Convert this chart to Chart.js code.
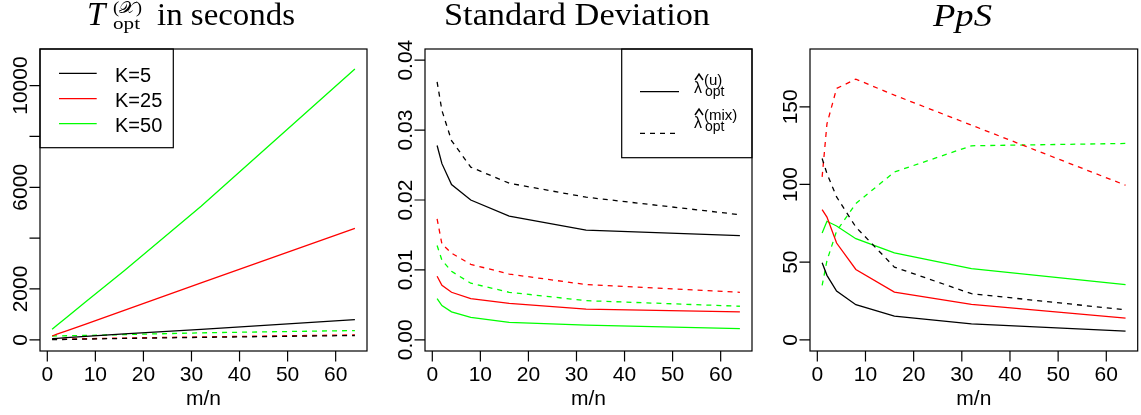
<!DOCTYPE html>
<html>
<head>
<meta charset="utf-8">
<script src="https://cdn.jsdelivr.net/npm/chart.js@4.4.1/dist/chart.umd.min.js"></script>
<style>
  body { margin: 0; background: #fff; }
  #wrap { position: relative; width: 1141px; height: 415px; }
  canvas { position: absolute; top: 0; }
</style>
</head>
<body>
<div id="wrap">
  <canvas id="time" width="380" height="415" style="left:0"></canvas>
  <canvas id="sd" width="380" height="415" style="left:380px"></canvas>
  <canvas id="pps" width="381" height="415" style="left:760px"></canvas>
</div>
<script>
'use strict';

// m/n ratios
const ratios = [1, 2, 4, 8, 16, 32, 64];
const kLabels = ['K=5', 'K=25', 'K=50'];
const kColors = ['#000000', '#ff0000', '#00ff00'];

// T_opt in seconds, uniform (solid) and mixed (dashed) per K
const timeUnifK5 = [47, 60, 85, 135, 230, 410, 795];
const timeUnifK25 = [150, 220, 350, 620, 1160, 2240, 4380];
const timeUnifK50 = [420, 575, 880, 1500, 2720, 5250, 10650];
const timeMixK5 = [5, 8, 15, 28, 55, 95, 170];
const timeMixK25 = [20, 25, 30, 45, 70, 115, 195];
const timeMixK50 = [150, 153, 160, 172, 205, 275, 365];

// standard deviation of lambda
const sdUnifK5 = [0.0278, 0.0252, 0.0222, 0.0200, 0.0177, 0.0157, 0.0149];
const sdUnifK25 = [0.0091, 0.0078, 0.0068, 0.0059, 0.0052, 0.0044, 0.0040];
const sdUnifK50 = [0.0059, 0.0049, 0.0040, 0.0032, 0.0025, 0.0021, 0.0016];
const sdMixK5 = [0.0369, 0.0328, 0.0285, 0.0247, 0.0224, 0.0204, 0.0179];
const sdMixK25 = [0.0173, 0.0137, 0.0124, 0.0108, 0.0094, 0.0079, 0.0068];
const sdMixK50 = [0.0135, 0.0114, 0.0098, 0.0081, 0.0068, 0.0056, 0.0048];

// PpS
const ppsUnifK5 = [49.6, 41.5, 31.4, 22.6, 15.3, 10.3, 5.6];
const ppsUnifK25 = [83.8, 79, 62.3, 45.3, 30.7, 22.8, 14];
const ppsUnifK50 = [68.8, 76.3, 73.3, 65.1, 55.9, 45.8, 35.5];
const ppsMixK5 = [116.7, 107, 92, 72.6, 46.8, 29.7, 19.3];
const ppsMixK25 = [104.9, 139, 161.8, 167.8, 157.5, 138.2, 99.5];
const ppsMixK50 = [35, 51, 70, 87.7, 108, 124.9, 126.4];

// axis ticks
const xTicks = [0, 10, 20, 30, 40, 50, 60];
const timeTicks = [0, 2000, 4000, 6000, 8000, 10000];
const timeTickLabels = ['0', '2000', '', '6000', '', '10000'];
const sdTicks = [0, 0.01, 0.02, 0.03, 0.04];
const sdTickLabels = ['0.00', '0.01', '0.02', '0.03', '0.04'];
const ppsTicks = [0, 50, 100, 150];
const ppsTickLabels = ['0', '50', '100', '150'];

const SANS = '"Liberation Sans", Arial, Helvetica, sans-serif';
const SERIF = '"Liberation Serif", "DejaVu Serif", serif';

function series(values) {
	return ratios.map((r, i) => ({ x: r, y: values[i] }));
}

function makeDatasets(unif, mix) {
	const sets = [];
	for (let k = 0; k < 3; k++) {
		sets.push({ data: series(unif[k]), borderColor: kColors[k], borderWidth: 1.3, pointRadius: 0 });
		sets.push({ data: series(mix[k]), borderColor: kColors[k], borderWidth: 1.3, pointRadius: 0, borderDash: [5, 5] });
	}
	return sets;
}

// text squeezed or stretched to a given width, left aligned
function fitText(ctx, text, x, y, font, width) {
	ctx.save();
	ctx.font = font;
	ctx.textAlign = 'left';
	ctx.textBaseline = 'alphabetic';
	const w = ctx.measureText(text).width;
	ctx.translate(x, y);
	ctx.scale(width / w, 1);
	ctx.fillText(text, 0, 0);
	ctx.restore();
}

// R style frame, ticks, labels, title and legend
const rAxes = {
	id: 'rAxes',
	afterDraw(chart, args, opts) {
		const { ctx, chartArea: a } = chart;
		const x = chart.scales.x;
		const y = chart.scales.y;
		ctx.save();
		ctx.strokeStyle = '#000';
		ctx.fillStyle = '#000';
		ctx.lineWidth = 1.2;
		ctx.strokeRect(a.left, a.top, a.right - a.left, a.bottom - a.top);

		ctx.beginPath();
		xTicks.forEach(v => {
			const px = x.getPixelForValue(v);
			ctx.moveTo(px, a.bottom);
			ctx.lineTo(px, a.bottom + 10.5);
		});
		opts.yTicks.forEach(v => {
			const py = y.getPixelForValue(v);
			ctx.moveTo(a.left, py);
			ctx.lineTo(a.left - 10.5, py);
		});
		ctx.stroke();

		ctx.font = '21px ' + SANS;
		ctx.textAlign = 'center';
		ctx.textBaseline = 'alphabetic';
		xTicks.forEach(v => ctx.fillText(String(v), x.getPixelForValue(v), 381));
		ctx.fillText('m/n', (a.left + a.right) / 2, 405);

		opts.yLabels.forEach((label, i) => {
			if (!label) return;
			ctx.save();
			ctx.translate(a.left - 13.5, y.getPixelForValue(opts.yTicks[i]));
			ctx.rotate(-Math.PI / 2);
			ctx.fillText(label, 0, 0);
			ctx.restore();
		});

		opts.title(ctx);
		if (opts.legend) opts.legend(ctx);
		ctx.restore();
	}
};

function hat(ctx, x, y) {
	ctx.beginPath();
	ctx.moveTo(x, y + 6);
	ctx.lineTo(x + 4, y);
	ctx.lineTo(x + 8, y + 6);
	ctx.lineWidth = 1.5;
	ctx.stroke();
}

// lambda-hat with subscript "opt" and a superscript
function lambdaLabel(ctx, x, top, sup) {
	hat(ctx, x + 1, top - 1);
	ctx.textAlign = 'left';
	ctx.font = '15px ' + SANS;
	ctx.fillText(sup, x + 10, top + 9.5);
	ctx.font = '16px ' + SANS;
	ctx.fillText('\u03bb', x, top + 18);
	ctx.font = '14px ' + SANS;
	ctx.fillText('opt', x + 11, top + 21);
}

function makeChart(id, unif, mix, box, yRange, plugin) {
	const canvas = document.getElementById(id);
	return new Chart(canvas, {
		type: 'line',
		data: { datasets: makeDatasets(unif, mix) },
		options: {
			responsive: false,
			animation: false,
			devicePixelRatio: 1,
			layout: { padding: { left: box.left, right: canvas.width - box.right, top: 49, bottom: 415 - 351 } },
			scales: {
				x: { type: 'linear', min: -1.52, max: 66.52, display: false },
				y: { type: 'linear', min: yRange[0], max: yRange[1], display: false }
			},
			plugins: { legend: { display: false }, tooltip: { enabled: false }, rAxes: plugin }
		},
		plugins: [rAxes]
	});
}

makeChart('time', [timeUnifK5, timeUnifK25, timeUnifK50], [timeMixK5, timeMixK25, timeMixK50],
	{ left: 40, right: 367 }, [-440, 11440], {
		yTicks: timeTicks,
		yLabels: timeTickLabels,
		title(ctx) {
			ctx.textAlign = 'left';
			ctx.font = 'italic 33px ' + SERIF;
			ctx.fillText('T', 87, 25);
			fitText(ctx, '(\ud835\udcb3)', 113, 13, '16px ' + SERIF, 29);
			fitText(ctx, 'opt', 113, 28.5, '16px ' + SERIF, 27);
			fitText(ctx, 'in seconds', 157, 25, '31px ' + SERIF, 138);
		},
		legend(ctx) {
			ctx.lineWidth = 1.2;
			ctx.strokeRect(40, 49, 133.3, 98.7);
			ctx.font = '20px ' + SANS;
			ctx.textAlign = 'left';
			[73.3, 98.7, 123.7].forEach((ly, k) => {
				ctx.beginPath();
				ctx.strokeStyle = kColors[k];
				ctx.lineWidth = 1.3;
				ctx.moveTo(59, ly);
				ctx.lineTo(96.7, ly);
				ctx.stroke();
				ctx.fillText(kLabels[k], 115, ly + 8.4);
			});
		}
	});

makeChart('sd', [sdUnifK5, sdUnifK25, sdUnifK50], [sdMixK5, sdMixK25, sdMixK50],
	{ left: 45, right: 372 }, [-0.0016, 0.0416], {
		yTicks: sdTicks,
		yLabels: sdTickLabels,
		title(ctx) {
			fitText(ctx, 'Standard Deviation', 64, 25, '31px ' + SERIF, 266);
		},
		legend(ctx) {
			ctx.lineWidth = 1.2;
			ctx.strokeRect(241.7, 49, 372 - 241.7, 108.7);
			ctx.lineWidth = 1.3;
			ctx.beginPath();
			ctx.moveTo(260, 91.7);
			ctx.lineTo(299, 91.7);
			ctx.stroke();
			ctx.setLineDash([5, 5]);
			ctx.beginPath();
			ctx.moveTo(260, 133.3);
			ctx.lineTo(299, 133.3);
			ctx.stroke();
			ctx.setLineDash([]);
			lambdaLabel(ctx, 314, 75, '(u)');
			lambdaLabel(ctx, 314, 110, '(mix)');
		}
	});

makeChart('pps', [ppsUnifK5, ppsUnifK25, ppsUnifK50], [ppsMixK5, ppsMixK25, ppsMixK50],
	{ left: 50, right: 377.7 }, [-7.2, 187.2], {
		yTicks: ppsTicks,
		yLabels: ppsTickLabels,
		title(ctx) {
			fitText(ctx, 'PpS', 173, 26, 'italic 31px ' + SERIF, 59);
		}
	});
</script>
</body>
</html>
